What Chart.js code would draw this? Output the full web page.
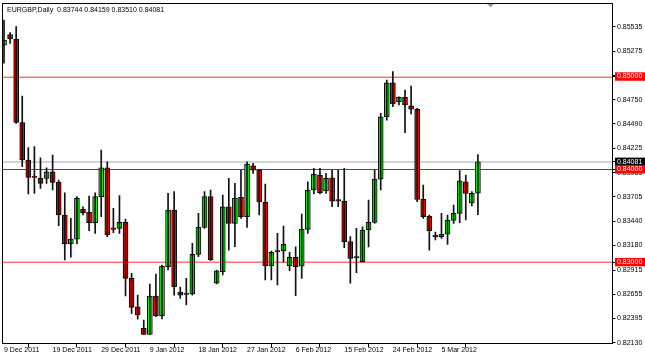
<!DOCTYPE html>
<html>
<head>
<meta charset="utf-8">
<script src="https://cdn.jsdelivr.net/npm/chart.js@4.4.1/dist/chart.umd.min.js"></script>
<style>
  body { margin: 0; background: #fff; }
  canvas { display: block; }
</style>
</head>
<body>
<canvas id="myChart" width="645" height="359"></canvas>
<script>
var symbol = "EURGBP";
var period = "Daily";

var dates = [
    "9 Dec 2011", "11 Dec 2011", "12 Dec 2011", "13 Dec 2011", "14 Dec 2011", "15 Dec 2011", "16 Dec 2011", "18 Dec 2011",
    "19 Dec 2011", "20 Dec 2011", "21 Dec 2011", "22 Dec 2011", "23 Dec 2011", "26 Dec 2011", "27 Dec 2011", "28 Dec 2011",
    "29 Dec 2011", "30 Dec 2011", "2 Jan 2012", "3 Jan 2012", "4 Jan 2012", "5 Jan 2012", "6 Jan 2012", "8 Jan 2012",
    "9 Jan 2012", "10 Jan 2012", "11 Jan 2012", "12 Jan 2012", "13 Jan 2012", "15 Jan 2012", "16 Jan 2012", "17 Jan 2012",
    "18 Jan 2012", "19 Jan 2012", "20 Jan 2012", "22 Jan 2012", "23 Jan 2012", "24 Jan 2012", "25 Jan 2012", "26 Jan 2012",
    "27 Jan 2012", "29 Jan 2012", "30 Jan 2012", "31 Jan 2012", "1 Feb 2012", "2 Feb 2012", "3 Feb 2012", "5 Feb 2012",
    "6 Feb 2012", "7 Feb 2012", "8 Feb 2012", "9 Feb 2012", "10 Feb 2012", "12 Feb 2012", "13 Feb 2012", "14 Feb 2012",
    "15 Feb 2012", "16 Feb 2012", "17 Feb 2012", "19 Feb 2012", "20 Feb 2012", "21 Feb 2012", "22 Feb 2012", "23 Feb 2012",
    "24 Feb 2012", "26 Feb 2012", "27 Feb 2012", "28 Feb 2012", "29 Feb 2012", "1 Mar 2012", "2 Mar 2012", "4 Mar 2012",
    "5 Mar 2012", "6 Mar 2012", "7 Mar 2012", "8 Mar 2012", "9 Mar 2012", "11 Mar 2012", "12 Mar 2012"
];

var opens = [
    0.85339, 0.85453, 0.85404, 0.84504, 0.84100, 0.83917, 0.83903, 0.83903, 0.83974, 0.83860,
    0.83508, 0.83195, 0.83246, 0.83569, 0.83537, 0.83425, 0.83705, 0.84017, 0.83360, 0.83364,
    0.83429, 0.82825, 0.82519, 0.82287, 0.82222, 0.82635, 0.82419, 0.82950, 0.83561, 0.82678,
    0.82651, 0.82656, 0.83084, 0.83375, 0.83705, 0.82772, 0.82897, 0.83597, 0.83418, 0.83698,
    0.83489, 0.84039, 0.83992, 0.83648, 0.82958, 0.83116, 0.83120, 0.82958, 0.83052, 0.82955,
    0.83353, 0.83777, 0.83939, 0.83766, 0.83909, 0.83664, 0.83658, 0.83220, 0.83050, 0.83006,
    0.83346, 0.83429, 0.83895, 0.84567, 0.84933, 0.84728, 0.84776, 0.84685, 0.84647, 0.83677,
    0.83497, 0.83279, 0.83274, 0.83300, 0.83450, 0.83526, 0.83866, 0.83637, 0.83744
];
var highs = [
    0.85609, 0.85474, 0.85537, 0.84790, 0.84233, 0.84244, 0.84125, 0.84017, 0.84154, 0.83885,
    0.83748, 0.83472, 0.83705, 0.83597, 0.83712, 0.83748, 0.84208, 0.84082, 0.83580, 0.83716,
    0.83464, 0.82879, 0.82645, 0.82376, 0.82764, 0.82872, 0.82969, 0.83741, 0.83759, 0.82732,
    0.82825, 0.83203, 0.83526, 0.83759, 0.83777, 0.82915, 0.83723, 0.83903, 0.83849, 0.83992,
    0.84082, 0.84065, 0.84000, 0.83842, 0.83120, 0.83310, 0.83389, 0.83106, 0.83166, 0.83518,
    0.83866, 0.84011, 0.84011, 0.83957, 0.83992, 0.83992, 0.84011, 0.83274, 0.83364, 0.83381,
    0.83669, 0.83992, 0.84603, 0.84962, 0.85052, 0.84782, 0.84855, 0.84898, 0.84657, 0.83831,
    0.83508, 0.83324, 0.83526, 0.83508, 0.83615, 0.83987, 0.83939, 0.83759, 0.84159
];
var lows = [
    0.85145, 0.85356, 0.84494, 0.84028, 0.83734, 0.83741, 0.83795, 0.83849, 0.83777, 0.83392,
    0.83023, 0.83052, 0.83195, 0.83508, 0.83338, 0.83310, 0.83489, 0.83274, 0.83317, 0.83310,
    0.82635, 0.82448, 0.82384, 0.82220, 0.82220, 0.82412, 0.82387, 0.82915, 0.82645, 0.82610,
    0.82538, 0.82645, 0.83058, 0.83364, 0.83017, 0.82764, 0.82861, 0.83130, 0.83166, 0.83472,
    0.83375, 0.83957, 0.83508, 0.82807, 0.82807, 0.82753, 0.83001, 0.82907, 0.82638, 0.82825,
    0.83310, 0.83734, 0.83734, 0.83741, 0.83597, 0.83597, 0.83155, 0.82772, 0.82886, 0.83001,
    0.83163, 0.83418, 0.83777, 0.84531, 0.84675, 0.84693, 0.84394, 0.84596, 0.83651, 0.83472,
    0.83130, 0.83238, 0.83256, 0.83192, 0.83418, 0.83425, 0.83454, 0.83605, 0.83510
];
var closes = [
    0.85393, 0.85404, 0.84506, 0.84100, 0.83914, 0.83912, 0.83849, 0.83974, 0.83860, 0.83508,
    0.83195, 0.83249, 0.83688, 0.83532, 0.83425, 0.83705, 0.84017, 0.83292, 0.83353, 0.83429,
    0.82825, 0.82513, 0.82430, 0.82222, 0.82635, 0.82419, 0.82958, 0.83561, 0.82735, 0.82645,
    0.82667, 0.83084, 0.83375, 0.83705, 0.83023, 0.82907, 0.83597, 0.83418, 0.83688, 0.83489,
    0.84057, 0.83992, 0.83648, 0.82958, 0.83106, 0.83109, 0.83192, 0.83052, 0.82950, 0.83353,
    0.83777, 0.83949, 0.83748, 0.83903, 0.83658, 0.83658, 0.83220, 0.83041, 0.83044, 0.83346,
    0.83429, 0.83895, 0.84567, 0.84933, 0.84704, 0.84776, 0.84693, 0.84647, 0.83677, 0.83489,
    0.83338, 0.83274, 0.83300, 0.83454, 0.83526, 0.83877, 0.83741, 0.83741, 0.84081
];

var dateTicks = ["9 Dec 2011", "19 Dec 2011", "29 Dec 2011", "9 Jan 2012", "18 Jan 2012",
                 "27 Jan 2012", "6 Feb 2012", "15 Feb 2012", "24 Feb 2012", "5 Mar 2012"];
var priceTicks = [0.82130, 0.82395, 0.82655, 0.82915, 0.83180, 0.83440, 0.83705,
                  0.83965, 0.84225, 0.84490, 0.84750, 0.85010, 0.85275, 0.85535];
var levels = [0.85, 0.84, 0.83];
var lastPrice = closes[closes.length - 1];

var FONT = { family: "'Liberation Sans', Arial, sans-serif", size: 7 };

var wicks = dates.map(function (d, i) { return { x: i, y: [lows[i], highs[i]] }; });
var bodies = dates.map(function (d, i) { return { x: i, y: [opens[i], closes[i]] }; });

// horizontal lines (levels + bid line) under the candles
var hlines = {
    id: 'hlines',
    beforeDatasetsDraw: function (chart) {
        var c = chart.ctx, a = chart.chartArea, y = chart.scales.y;
        c.save();
        var py = Math.round(y.getPixelForValue(lastPrice));
        c.fillStyle = '#d4d4d4';
        c.fillRect(a.left, py - 1, a.right - a.left, 2);
        levels.forEach(function (v) {
            var p = Math.round(y.getPixelForValue(v));
            c.fillStyle = v === 0.84 ? '#ff0000' : '#ff7070';
            c.fillRect(a.left, p, a.right - a.left, 1);
            if (v !== 0.84) {
                c.fillStyle = 'rgba(255,112,112,0.45)';
                c.fillRect(a.left, p - 1, a.right - a.left, 1);
            }
        });
        c.restore();
    }
};

var frame = {
    id: 'frame',
    afterDraw: function (chart) {
        var c = chart.ctx, a = chart.chartArea;
        c.save();
        c.strokeStyle = '#000';
        c.lineWidth = 1;
        c.strokeRect(a.left, a.top, a.right - a.left, a.bottom - a.top);
        // chart shift marker
        c.fillStyle = '#a0a0a0';
        c.beginPath();
        c.moveTo(487, a.top + 0.5);
        c.lineTo(494, a.top + 0.5);
        c.lineTo(490.5, a.top + 4);
        c.closePath();
        c.fill();
        // title line
        var n = closes.length - 1;
        var txt = symbol + "," + period + "  " + [opens[n], highs[n], lows[n], closes[n]].map(function (v) { return v.toFixed(5); }).join(" ");
        c.fillStyle = '#000';
        c.font = FONT.size + "px " + FONT.family;
        c.textBaseline = 'alphabetic';
        c.fillText(txt, 7, 11.7);
        c.restore();
    }
};

function levelColor(v) {
    if (levels.indexOf(v) >= 0) return '#ff0000';
    if (v === lastPrice) return '#000';
    return null;
}

new Chart("myChart", {
    type: "bar",
    data: {
        datasets: [{
            data: wicks,
            backgroundColor: '#111',
            barThickness: 1,
            grouped: false
        }, {
            data: bodies,
            backgroundColor: function (ctx) {
                var i = ctx.dataIndex;
                return closes[i] >= opens[i] ? '#00ff00' : '#ff0000';
            },
            borderColor: '#000',
            borderWidth: 1,
            borderSkipped: false,
            barThickness: 5,
            minBarLength: 1.5,
            grouped: false
        }]
    },
    options: {
        responsive: false,
        animation: false,
        events: [],
        layout: { padding: { left: 2.5, top: 3.5, right: 0, bottom: 0 } },
        plugins: { legend: { display: false }, tooltip: { enabled: false } },
        scales: {
            x: {
                type: 'linear',
                offset: false,
                min: -0.25,
                max: 100.15,
                border: { display: false },
                grid: { drawOnChartArea: false, drawTicks: true, tickLength: 4, color: '#000' },
                afterBuildTicks: function (scale) {
                    scale.ticks = dateTicks.map(function (d) { return { value: dates.indexOf(d) }; });
                },
                afterFit: function (scale) {
                    scale.height = 15.5;
                    scale.paddingLeft = 0;
                    scale.paddingRight = 0;
                },
                ticks: {
                    autoSkip: false,
                    maxRotation: 0,
                    minRotation: 0,
                    align: 'start',
                    padding: -1.5,
                    color: '#000',
                    font: FONT,
                    callback: function (v) { return dates[v]; }
                }
            },
            y: {
                position: 'right',
                min: 0.82123,
                max: 0.85787,
                border: { display: false },
                grid: {
                    drawOnChartArea: false,
                    drawTicks: true,
                    tickLength: 3,
                    color: '#000'
                },
                afterBuildTicks: function (scale) {
                    scale.ticks = priceTicks.map(function (v) { return { value: v }; })
                        .concat([{ value: lastPrice }])
                        .concat(levels.map(function (v) { return { value: v }; }));
                },
                afterFit: function (scale) {
                    scale.width = 32.5;
                    scale.paddingTop = 0;
                    scale.paddingBottom = 0;
                },
                ticks: {
                    autoSkip: false,
                    padding: 1.5,
                    font: FONT,
                    color: function (ctx) {
                        return levelColor(ctx.tick.value) ? '#fff' : '#000';
                    },
                    showLabelBackdrop: function (ctx) {
                        return levelColor(ctx.tick.value) !== null;
                    },
                    backdropColor: function (ctx) {
                        return levelColor(ctx.tick.value) || 'rgba(0,0,0,0)';
                    },
                    backdropPadding: { top: 0, bottom: 0, left: 2, right: 4 },
                    callback: function (v) { return v.toFixed(5); }
                }
            }
        }
    },
    plugins: [hlines, frame]
});
</script>
</body>
</html>
